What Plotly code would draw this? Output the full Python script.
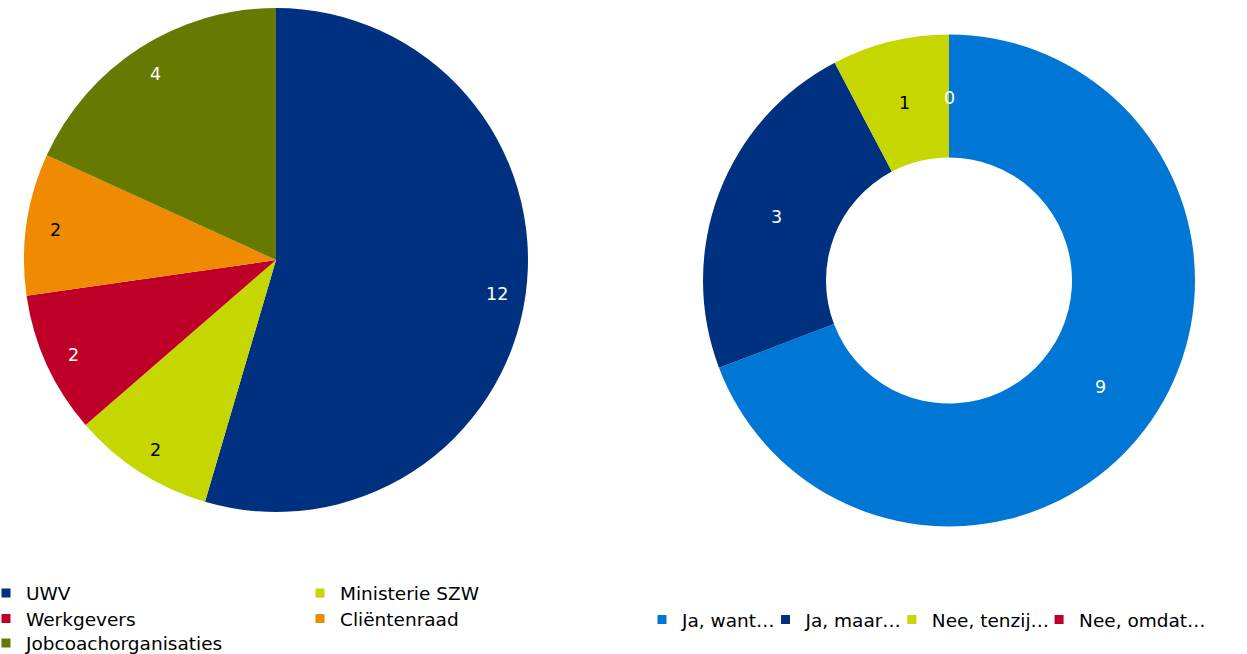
import math
import plotly.graph_objects as go

W, H = 1247, 654
FONT = "DejaVu Sans"

# Left pie: who is involved
org_labels = ["UWV", "Ministerie SZW", "Werkgevers", "Cliëntenraad", "Jobcoachorganisaties"]
org_values = [12, 2, 2, 2, 4]
org_colors = ["#003180", "#c5d600", "#be0029", "#f08a00", "#667900"]
org_text_colors = ["white", "black", "white", "black", "white"]

# Right donut: answers
ans_labels = ["Ja, want…", "Ja, maar…", "Nee, tenzij…", "Nee, omdat…"]
ans_values = [9, 3, 1, 0]
ans_colors = ["#0077d4", "#003180", "#c5d600", "#be0029"]
ans_text_colors = ["white", "white", "black", "white"]

# Geometry of the two charts (pixels)
PIE_BOX = dict(x0=24, x1=528, y0=8, y1=512)
DONUT_BOX = dict(x0=703, x1=1195, y0=34.5, y1=526.5)
HOLE = 0.5


def px(x):
    return x / W


def py(y):
    return 1 - y / H


def domain(box):
    return dict(x=[px(box["x0"]), px(box["x1"])], y=[py(box["y1"]), py(box["y0"])])


def slice_labels(values, box, rfrac, colors):
    """Value labels placed at the mid-angle of each slice (clockwise from 12 o'clock)."""
    cx = (box["x0"] + box["x1"]) / 2
    cy = (box["y0"] + box["y1"]) / 2
    r = min(box["x1"] - box["x0"], box["y1"] - box["y0"]) / 2
    total = sum(values)
    acc = 0
    out = []
    for v, c in zip(values, colors):
        mid = (acc + v / 2) / total * 2 * math.pi
        acc += v
        x = cx + rfrac * r * math.sin(mid)
        y = cy - rfrac * r * math.cos(mid)
        out.append(dict(
            x=px(x), y=py(y), xref="paper", yref="paper", text=str(v),
            showarrow=False, xanchor="center", yanchor="middle", yshift=-2,
            font=dict(family=FONT, size=17.5, color=c),
        ))
    return out


fig = go.Figure()

fig.add_trace(go.Pie(
    labels=org_labels, values=org_values, sort=False, direction="clockwise", rotation=0,
    marker=dict(colors=org_colors, line=dict(width=0)), textinfo="none",
    domain=domain(PIE_BOX), showlegend=False, hoverinfo="label+value",
))

fig.add_trace(go.Pie(
    labels=ans_labels, values=ans_values, sort=False, direction="clockwise", rotation=0,
    hole=HOLE, marker=dict(colors=ans_colors, line=dict(width=0)), textinfo="none",
    domain=domain(DONUT_BOX), showlegend=False, hoverinfo="label+value",
))

# Legend entries (square swatches). The left legend is a two-column grid,
# built as one horizontal legend per row.
left_rows = [[0, 1], [2, 3], [4]]
row_legends = ["legend", "legend2", "legend3"]
for leg, row in zip(row_legends, left_rows):
    for i in row:
        fig.add_trace(go.Scatter(
            x=[None], y=[None], mode="markers", name=org_labels[i],
            marker=dict(symbol="square", size=9, color=org_colors[i], line=dict(width=0)),
            legend=leg, hoverinfo="skip",
        ))
for lab, col in zip(ans_labels, ans_colors):
    fig.add_trace(go.Scatter(
        x=[None], y=[None], mode="markers", name=lab,
        marker=dict(symbol="square", size=9, color=col, line=dict(width=0)),
        legend="legend4", hoverinfo="skip",
    ))

legend_font = dict(family=FONT, size=18.5, color="black")
common = dict(font=legend_font, bgcolor="rgba(0,0,0,0)", borderwidth=0, orientation="h",
              xanchor="left", yanchor="middle", indentation=-15, itemclick=False)
row_y = [593.5, 619, 643.5]

fig.update_layout(
    width=W, height=H,
    margin=dict(l=0, r=0, t=0, b=0, autoexpand=False),
    paper_bgcolor="white", plot_bgcolor="white",
    font=dict(family=FONT),
    xaxis=dict(visible=False), yaxis=dict(visible=False),
    legend=dict(x=px(1), y=py(row_y[0]), entrywidth=284, **common),
    legend2=dict(x=px(1), y=py(row_y[1]), entrywidth=284, **common),
    legend3=dict(x=px(1), y=py(row_y[2]), entrywidth=284, **common),
    legend4=dict(x=px(657), y=py(620), **common),
    annotations=slice_labels(org_values, PIE_BOX, 0.885, org_text_colors)
    + slice_labels(ans_values, DONUT_BOX, (1 + HOLE) / 2, ans_text_colors),
)

fig.write_html("out.html")
